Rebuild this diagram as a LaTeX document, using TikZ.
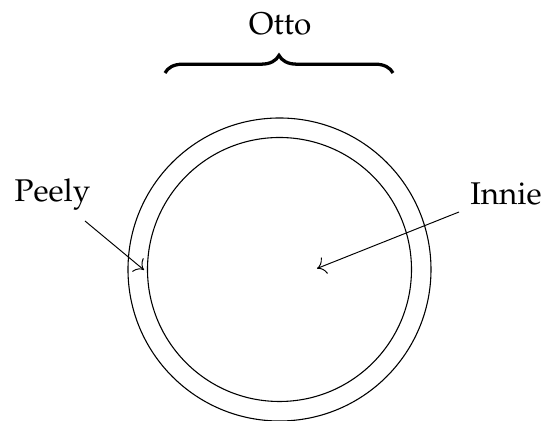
\documentclass[tikz,border=0pt]{standalone}
\usepackage[T1]{fontenc}
\usepackage{mathpazo}
\usetikzlibrary{decorations.pathreplacing,arrows.meta}
\begin{document}
\begin{tikzpicture}[x=0.414pt,y=-0.414pt,
  lbl/.style={font=\fontsize{13}{15}\selectfont, inner sep=0pt},
  ptr/.style={-{To[scale=1.4]}, line width=0.4pt}]
\useasboundingbox (0,0) rectangle (544,421);
\coordinate (c) at (279.5,269.5);
\draw[line width=0.45pt] (c) circle[radius=151.5*0.414pt];
\draw[line width=0.45pt] (c) circle[radius=132*0.414pt];
\node[lbl] (otto) at (280,23.5) {Otto};
\coordinate (bl) at (165,73);
\coordinate (br) at (393,73);
\draw[line width=1.35pt, decorate, decoration={brace, amplitude=7.3pt}] (bl) -- (br);
\node[lbl, anchor=base] (peely) at (52.5,202) {Peely};
\node[lbl, anchor=base] (innie) at (506,205) {Innie};
\coordinate (ps) at (85,221);
\coordinate (pe) at (144,270);
\coordinate (is) at (459,212);
\coordinate (ie) at (317,268.5);
\draw[ptr] (ps) -- (pe);
\draw[ptr] (is) -- (ie);
\end{tikzpicture}
\end{document}
